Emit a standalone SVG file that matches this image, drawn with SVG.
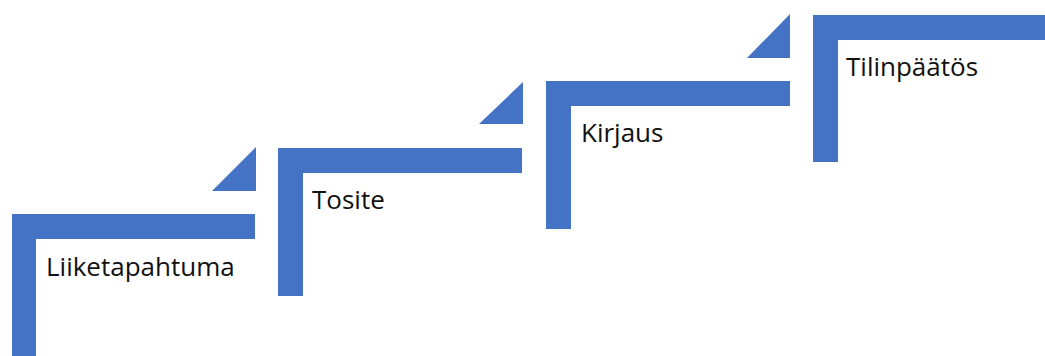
<svg xmlns="http://www.w3.org/2000/svg" width="1045" height="356" viewBox="0 0 1045 356">
<style>
.step{fill:#4472C4}
.tri{fill:#4472C4}
.lbl{font-family:"Open Sans","Noto Sans","Liberation Sans",sans-serif;font-size:26px;fill:#111111}
</style>
<rect width="1045" height="356" fill="#ffffff"/>
<g id="step1">
<path class="step" d="M12,214 H255 V239 H36 V356 H12 Z"/>
<text class="lbl" x="46" y="276">Liiketapahtuma</text>
</g>
<g id="step2">
<path class="step" d="M278,148 H522 V173 H303 V296 H278 Z"/>
<text class="lbl" x="312" y="209">Tosite</text>
</g>
<g id="step3">
<path class="step" d="M546,81 H790 V106 H571 V229 H546 Z"/>
<text class="lbl" x="581" y="142">Kirjaus</text>
</g>
<g id="step4">
<path class="step" d="M813,15 H1045 V40 H838 V162 H813 Z"/>
<text class="lbl" x="846" y="76">Tilinpäätös</text>
</g>
<g id="connectors">
<path class="tri" d="M256,147 V191 H212 Z"/>
<path class="tri" d="M523,82 V124 H479 Z"/>
<path class="tri" d="M790,14 V58 H747 Z"/>
</g>
</svg>
